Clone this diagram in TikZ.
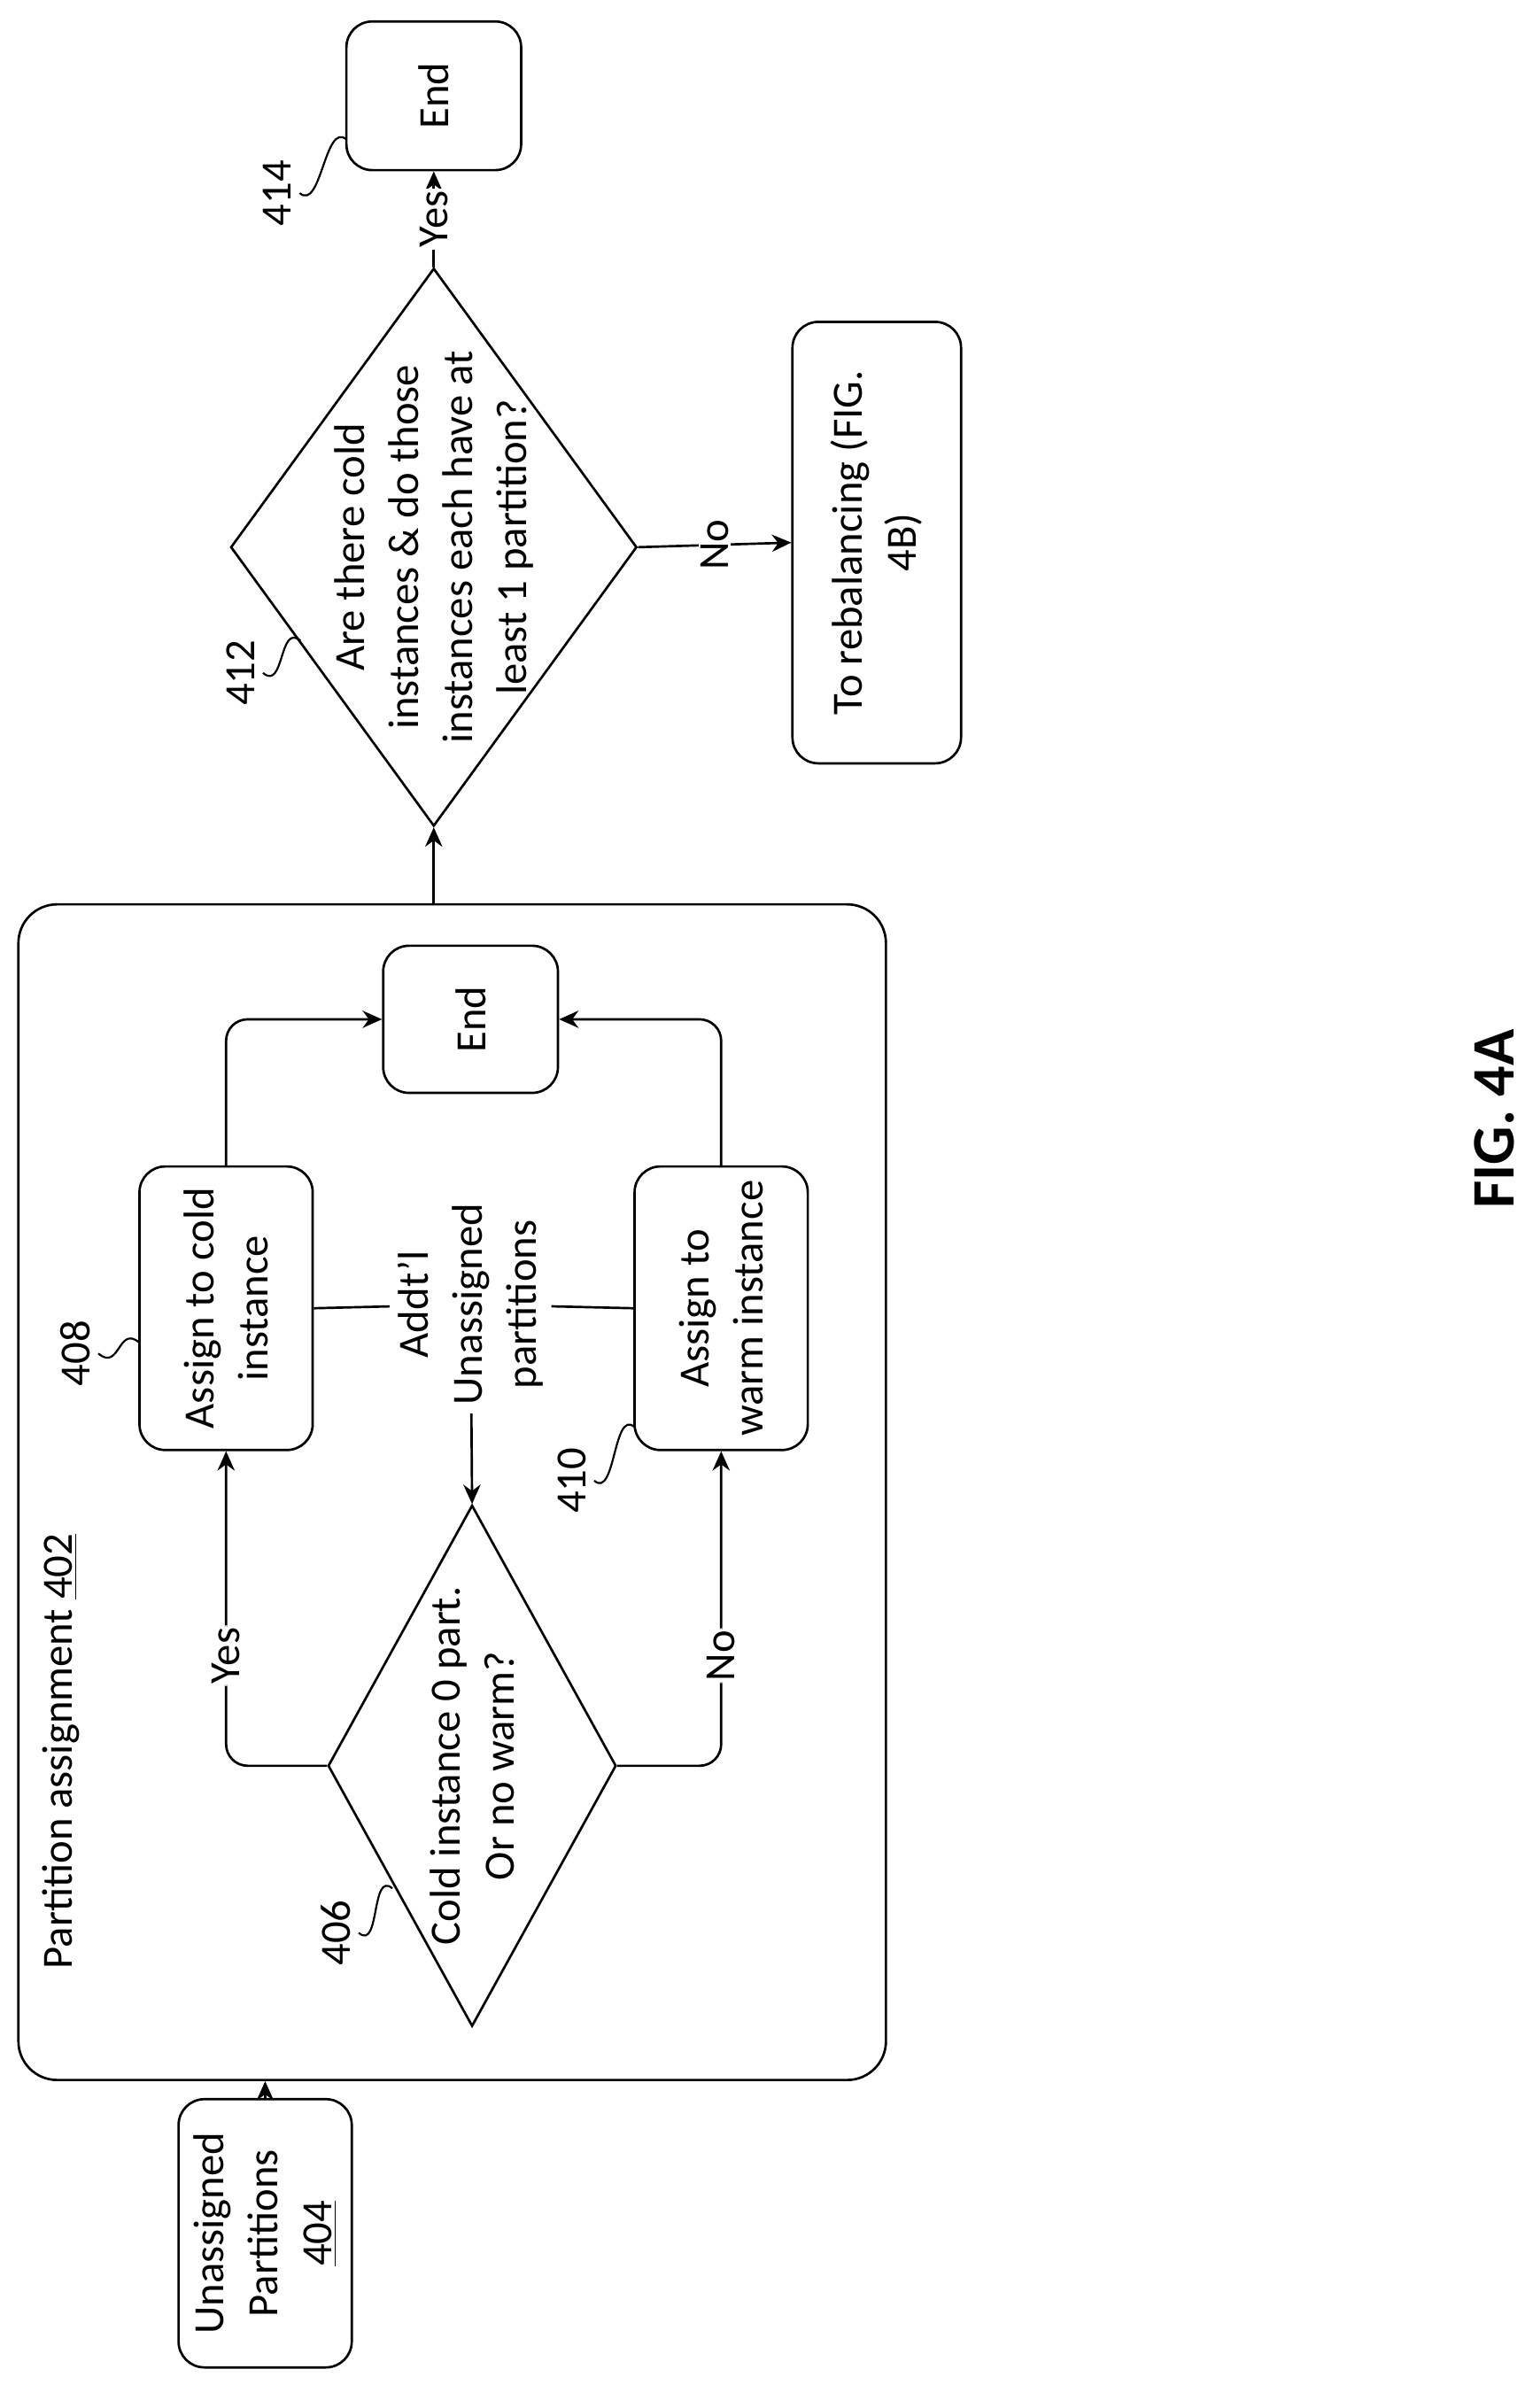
\documentclass[tikz,border=0pt]{standalone}
\usepackage{fontspec}
\setmainfont{Carlito}
\usetikzlibrary{shapes.geometric,arrows.meta,positioning}
\newcommand{\figfont}{\fontsize{20}{25}\selectfont}
\tikzset{
  sz/.style 2 args={minimum width=#1*0.025cm, minimum height=#2*0.025cm},
  box/.style={draw, rounded corners=12pt, rotate=90, align=center, inner sep=2pt},
  dia/.style={draw, diamond, rotate=90, inner sep=0pt},
  txt/.style={rotate=90, align=center},
  arr/.style={-{Stealth[length=9pt,width=8pt]}},
  squig/.style={line width=0.9pt},
}
\begin{document}
\begin{tikzpicture}[x=0.025cm, y=-0.025cm, line width=1.1pt, font=\figfont]
\useasboundingbox (0,0) rectangle (1000,1571);
% inner flow
\node[box, sz={767}{566}, rounded corners=18pt] (pa) at (295,973.5) {};
\node[rotate=90, anchor=west] (t402) at (40,1290) {Partition assignment \underline{402}};
\node[box, sz={175}{113}] (unp) at (173,1457) {Unassigned\\Partitions\\\underline{404}};
\node[dia, sz={340}{188}] (d406) at (308,1152) {};
\node[txt] at (d406) {Cold instance 0 part.\\Or no warm?};
\node[box, sz={185}{113}] (b408) at (147.5,853.5) {Assign to cold\\instance};
\node[box, sz={185}{113}] (b410) at (470.5,853.5) {Assign to\\warm instance};
\node[box, sz={96}{114}] (e1) at (307,665) {End};
\node[txt] (adl) at (307,851) {Addt'l\\Unassigned\\partitions};
% outer flow
\node[dia, sz={364}{265}] (d412) at (283,357) {};
\node[txt] at (d412) {Are there cold\\instances \& do those\\instances each have at\\least 1 partition?};
\node[box, sz={97}{114}] (e2) at (283,62.5) {End};
\node[box, sz={288}{110}] (rb) at (572,354) {To rebalancing (FIG.\\4B)};
\node[txt, font=\fontsize{28}{32}\selectfont\bfseries] (fig) at (975,730) {FIG. 4A};

\draw[arr] (unp.east) -- (unp.east |- pa.west);
\draw[arr] (d412.west |- pa.east) -- (d412.west);
\draw[arr] (d412.east) -- node[txt, fill=white, inner sep=1pt] {Yes} (e2.west);
\draw[arr] (d412.south) -- node[txt, fill=white, inner sep=1pt] {No} (rb.north);
\draw[arr, rounded corners=10pt] (d406.north) -| node[txt, fill=white, pos=0.675, inner sep=1pt] {Yes} (b408.west);
\draw[arr, rounded corners=10pt] (d406.south) -| node[txt, fill=white, pos=0.675, inner sep=1pt] {No} (b410.west);
\draw[arr, rounded corners=10pt] (b408.east) |- (e1.north);
\draw[arr, rounded corners=10pt] (b410.east) |- (e1.south);
\draw (b408.south) -- (adl) -- (b410.north);
\draw[arr] (adl) -- (d406.east);

% reference numerals
\node[txt] (n408) at (49,883) {408};
\node[txt] (n410) at (373,966) {410};
\node[txt] (n406) at (219,1261) {406};
\node[txt] (n412) at (157,439) {412};
\node[txt] (n414) at (181,126) {414};
\coordinate (t408) at (91,876);
\coordinate (t410) at (414,931);
\coordinate (t406) at (256,1232);
\coordinate (t412) at (196,418);
\coordinate (t414) at (226,91);
\foreach \n in {408,410,406,412,414}
  \draw[squig] (n\n.south) .. controls +(14,12) and +(-14,-12) .. (t\n);
\end{tikzpicture}
\end{document}
